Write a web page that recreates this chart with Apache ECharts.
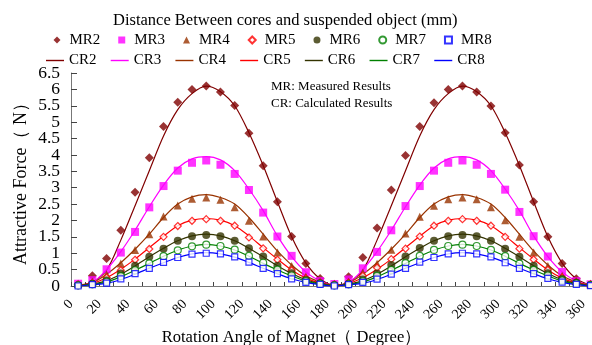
<!DOCTYPE html>
<html>
<head>
<meta charset="utf-8">
<script src="https://cdn.jsdelivr.net/npm/echarts@6/dist/echarts.min.js"></script>
<style>
html,body{margin:0;padding:0;background:#fff;}
#chart{width:592px;height:345px;}
</style>
</head>
<body>
<div id="chart"></div>
<script>
// Rotation angle (degree) at which each point sits on the axis
const angles = [5,15,25,35,45,55,65,75,85,95,105,115,125,135,145,155,165,175,185,
  195,205,215,225,235,245,255,265,275,285,295,305,315,325,335,345,355,365];

// Measured results (N)
const MR2 = [0.05,0.31,0.84,1.70,2.86,3.91,4.87,5.61,6.00,6.10,5.92,5.51,4.66,3.67,2.57,1.51,0.69,0.23,0.05,
  0.28,0.87,1.77,2.93,3.98,4.87,5.59,6.00,6.10,5.92,5.49,4.68,3.69,2.57,1.50,0.69,0.22,0.05];
const MR3 = [0.07,0.18,0.51,1.02,1.65,2.40,3.05,3.52,3.76,3.83,3.70,3.42,2.93,2.24,1.51,0.92,0.42,0.15,0.06,
  0.20,0.54,1.04,1.70,2.44,3.05,3.52,3.76,3.83,3.70,3.42,2.94,2.26,1.52,0.90,0.43,0.15,0.05];
const MR4 = [0.05,0.13,0.36,0.69,1.10,1.58,2.12,2.46,2.66,2.70,2.63,2.40,1.99,1.51,1.02,0.61,0.29,0.13,0.05,
  0.13,0.41,0.68,1.11,1.60,2.11,2.45,2.65,2.70,2.65,2.40,2.01,1.50,1.02,0.61,0.31,0.15,0.05];
const MR5 = [0.04,0.09,0.26,0.48,0.80,1.13,1.50,1.83,1.99,2.04,1.99,1.84,1.48,1.15,0.80,0.48,0.23,0.10,0.04,
  0.10,0.31,0.56,0.82,1.14,1.51,1.84,1.99,2.04,1.99,1.84,1.50,1.14,0.81,0.49,0.26,0.11,0.04];
const MR6 = [0.02,0.07,0.17,0.38,0.62,0.89,1.14,1.38,1.52,1.56,1.52,1.38,1.15,0.90,0.62,0.39,0.18,0.08,0.02,
  0.07,0.20,0.38,0.64,0.90,1.16,1.38,1.52,1.56,1.52,1.38,1.14,0.89,0.62,0.39,0.21,0.10,0.03];
const MR7 = [0.02,0.05,0.13,0.30,0.48,0.69,0.91,1.09,1.21,1.26,1.22,1.11,0.92,0.71,0.50,0.32,0.15,0.07,0.02,
  0.05,0.15,0.31,0.49,0.70,0.92,1.10,1.22,1.26,1.22,1.10,0.91,0.68,0.49,0.32,0.17,0.08,0.03];
const MR8 = [0.00,0.04,0.09,0.22,0.38,0.54,0.72,0.87,0.97,1.00,0.98,0.89,0.73,0.54,0.38,0.22,0.11,0.05,0.00,
  0.04,0.11,0.21,0.36,0.54,0.73,0.87,0.98,1.00,0.98,0.89,0.71,0.54,0.38,0.23,0.12,0.05,0.01];

// Calculated results (N)
const CR2 = [0.02,0.12,0.48,1.40,2.45,3.52,4.58,5.38,5.87,6.10,5.93,5.50,4.68,3.68,2.57,1.50,0.70,0.22,0.02,
  0.12,0.48,1.40,2.45,3.52,4.58,5.38,5.87,6.10,5.93,5.50,4.68,3.68,2.57,1.50,0.70,0.22,0.02];
const CR3 = [0.02,0.10,0.50,1.05,1.70,2.42,3.08,3.60,3.88,3.95,3.85,3.52,2.96,2.30,1.53,0.90,0.43,0.15,0.02,
  0.10,0.50,1.05,1.70,2.42,3.08,3.60,3.88,3.95,3.85,3.52,2.96,2.30,1.53,0.90,0.43,0.15,0.02];
const CR4 = [0.02,0.10,0.36,0.71,1.12,1.58,2.09,2.50,2.72,2.79,2.70,2.50,2.09,1.58,1.07,0.64,0.31,0.12,0.02,
  0.10,0.36,0.71,1.12,1.58,2.09,2.50,2.72,2.79,2.70,2.50,2.09,1.58,1.07,0.64,0.31,0.12,0.02];
const CR5 = [0.02,0.08,0.25,0.51,0.82,1.17,1.52,1.84,2.01,2.06,2.01,1.84,1.53,1.17,0.82,0.49,0.24,0.09,0.02,
  0.08,0.25,0.51,0.82,1.17,1.52,1.84,2.01,2.06,2.01,1.84,1.53,1.17,0.82,0.49,0.24,0.09,0.02];
const CR6 = [0.01,0.06,0.16,0.36,0.61,0.89,1.15,1.38,1.53,1.58,1.53,1.38,1.15,0.89,0.62,0.38,0.19,0.07,0.01,
  0.06,0.16,0.36,0.61,0.89,1.15,1.38,1.53,1.58,1.53,1.38,1.15,0.89,0.62,0.38,0.19,0.07,0.01];
const CR7 = [0.01,0.05,0.12,0.28,0.48,0.69,0.91,1.09,1.22,1.27,1.22,1.10,0.91,0.69,0.49,0.31,0.15,0.06,0.01,
  0.05,0.12,0.28,0.48,0.69,0.91,1.09,1.22,1.27,1.22,1.10,0.91,0.69,0.49,0.31,0.15,0.06,0.01];
const CR8 = [0.00,0.04,0.08,0.20,0.36,0.54,0.71,0.87,0.98,1.02,0.98,0.88,0.72,0.54,0.37,0.22,0.11,0.04,0.00,
  0.04,0.08,0.20,0.36,0.54,0.71,0.87,0.98,1.02,0.98,0.88,0.72,0.54,0.37,0.22,0.11,0.04,0.00];

const mrNames = ['MR2','MR3','MR4','MR5','MR6','MR7','MR8'];
const crNames = ['CR2','CR3','CR4','CR5','CR6','CR7','CR8'];
const mrData = [MR2,MR3,MR4,MR5,MR6,MR7,MR8];
const crData = [CR2,CR3,CR4,CR5,CR6,CR7,CR8];
const colors = ['#800000','#FF00FF','#993300','#FF0000','#333300','#008000','#0000FF'];
const mrSymbols = ['diamond','rect','triangle','diamond','circle','circle','rect'];
const mrHollow = [false,false,false,true,false,true,true];
const mrSizes = [9,8,8,7,8,7,6];

const FONT = '"Liberation Serif","Times New Roman",serif';

function pairs(arr){ return angles.map((a,i)=>[a,arr[i]]); }

const series = [];
crNames.forEach((n,i)=>{
  series.push({
    name:n, type:'line', data:pairs(crData[i]), showSymbol:false, smooth:0.3,
    lineStyle:{color:colors[i], width:1.2}, itemStyle:{color:colors[i]}, z:2, animation:false
  });
});
mrNames.forEach((n,i)=>{
  series.push({
    name:n, type:'scatter', data:pairs(mrData[i]), symbol:mrSymbols[i], symbolSize:mrSizes[i],
    itemStyle: mrHollow[i] ? {color:'#fff', borderColor:colors[i], borderWidth:1.2}
                           : {color:colors[i]},
    z:3, animation:false
  });
});

const yLabelStyle = {margin:11, fontFamily:FONT, fontSize:17.5, color:'#000',
  showMinLabel:true, showMaxLabel:true, hideOverlap:false};

const chart = echarts.init(document.getElementById('chart'), null, {renderer:'canvas'});
chart.setOption({
  backgroundColor:'#fff',
  animation:false,
  title:{
    text:'Distance Between cores and suspended object (mm)',
    left:113, top:12, padding:0, z:1,
    textStyle:{fontFamily:FONT, fontSize:16.5, fontWeight:'normal', color:'#000'}
  },
  legend:[
    {
      data:mrNames, left:53.5, top:32.5, padding:0, itemWidth:7, itemHeight:7, itemGap:17.9,
      symbolKeepAspect:true,
      textStyle:{fontFamily:FONT, fontSize:15, color:'#000', padding:[0,0,0,4]}, selectedMode:false
    },
    {
      data:crNames.map(n=>({name:n, icon:'rect'})), left:46, top:53, padding:0,
      itemWidth:18, itemHeight:1.4, itemGap:14.2,
      textStyle:{fontFamily:FONT, fontSize:15, color:'#000'}, selectedMode:false
    }
  ],
  grid:{left:71, top:73, width:521, bottom:59, containLabel:false, outerBoundsMode:'none'},
  xAxis:{
    type:'value', min:0, max:366, interval:10,
    name:'Rotation Angle of Magnet（ Degree）', nameLocation:'middle', nameGap:38,
    nameTextStyle:{fontFamily:FONT, fontSize:16.5, color:'#000', padding:[0,80,0,0]},
    axisLine:{show:true, onZero:false, lineStyle:{color:'#777', width:1}},
    axisTick:{show:true, inside:true, length:4, lineStyle:{color:'#444'}},
    axisLabel:{
      rotate:45, margin:16, fontFamily:FONT, fontSize:14, color:'#000', showMaxLabel:false,
      hideOverlap:false,
      formatter:v => (v % 20 === 0 && v <= 360) ? String(v) : ''
    },
    splitLine:{show:false}
  },
  yAxis:[
    {
      type:'value', min:0, max:6.5, interval:0.5, position:'left',
      name:'Attractive Force（ N）', nameLocation:'middle', nameGap:41,
      nameTextStyle:{fontFamily:FONT, fontSize:18, color:'#000'},
      axisLine:{show:true, lineStyle:{color:'#777', width:1}},
      axisTick:{show:true, inside:true, length:6, lineStyle:{color:'#444'}},
      axisLabel:Object.assign({}, yLabelStyle, {formatter:v => (Math.round(v*2) % 2 === 0) ? String(v) : ''}),
      splitLine:{show:false}
    },
    {
      type:'value', min:0, max:6.5, interval:0.5, position:'left', offset:0,
      axisLine:{show:false}, axisTick:{show:false},
      axisLabel:Object.assign({}, yLabelStyle, {formatter:v => (Math.round(v*2) % 2 === 1) ? String(v) : ''}),
      splitLine:{show:false}
    }
  ],
  graphic:[
    {type:'text', left:271, top:80, style:{text:'MR: Measured Results', font:'13px '+FONT, fill:'#000'}},
    {type:'text', left:271, top:97, style:{text:'CR: Calculated Results', font:'13px '+FONT, fill:'#000'}}
  ],
  series:series
});
</script>
</body>
</html>
